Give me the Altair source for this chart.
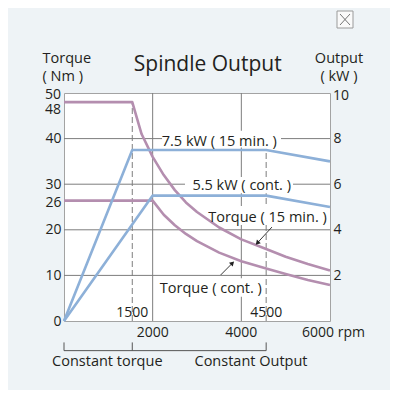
import altair as alt
import pandas as pd

# ---- data ----
rpm_t15 = [0, 1540, 1750, 2000, 2250, 2500, 2750, 3000, 3500, 4000, 4560, 5000, 5500, 6000]
torque_15min = [48, 48, 41, 36, 32, 28.7, 26.0, 23.9, 20.5, 17.9, 15.8, 14.1, 12.5, 11.1]
rpm_tc = [0, 2000, 2250, 2500, 2750, 3000, 3500, 4000, 4560, 5000, 5500, 6000]
torque_cont = [26.4, 26.4, 23.3, 21.0, 19.1, 17.5, 15.0, 13.1, 11.5, 10.3, 9.0, 7.9]
rpm_p15 = [0, 1540, 4560, 6000]
power_15min = [0, 7.5, 7.5, 7.0]
rpm_pc = [0, 2000, 4560, 6000]
power_cont = [0, 5.5, 5.5, 5.0]

torque_ticks = [0, 10, 20, 26, 30, 40]
output_ticks = [2, 4, 6, 8]
rpm_ticks = [2000, 4000]
rpm_tick_labels = ["2000", "4000"]
torque_grid = [10, 20, 30, 40]
rpm_grid = [2000, 4000]

ann_labels = ["7.5 kW ( 15 min. )", "5.5 kW ( cont. )", "Torque ( 15 min. )", "Torque ( cont. )"]
ann_rpm = [3503, 4008, 4590, 3312]
ann_torque = [38.4, 28.7, 21.8, 6.2]
box_r1 = [2211, 2729, 3203, 2120]
box_r2 = [4895, 5166, 5955, 4490]
box_t1 = [38.05, 28.0, 21.05, 5.3]
box_t2 = [41.7, 31.6, 25.2, 9.4]

arrow_r1 = [4690, 3535]
arrow_t1 = [20.6, 10.1]
arrow_r2 = [4360, 3800]
arrow_t2 = [17.1, 12.7]
arrow_angle = [223, 45]

FONT = "Open Sans"
TXT = "#231f20"
PINK = "#b48eaf"
BLUE = "#8db0d8"
GRID = "#7d7d7d"

xs = alt.Scale(domain=[0, 6000], nice=False, zero=False)
ts = alt.Scale(domain=[0, 50], nice=False, zero=False)
ps = alt.Scale(domain=[0, 10], nice=False, zero=False)

left_axis = alt.Axis(values=torque_ticks, ticks=False, domain=False, grid=False,
                     labelPadding=3, labelFontSize=14, labelFont=FONT, labelColor=TXT,
                     title=["Torque", "( Nm )"], titleAngle=0, titleAlign="left",
                     titleBaseline="alphabetic", titleX=-22, titleY=-30.5,
                     titleFont=FONT, titleFontSize=14.5, titleFontWeight="normal",
                     titleColor=TXT, titleLineHeight=18)
right_axis = alt.Axis(orient="right", values=output_ticks, ticks=False, domain=False, grid=False,
                      labelPadding=3, labelFontSize=14, labelFont=FONT, labelColor=TXT,
                      title=["Output", "( kW )"], titleAngle=0, titleAlign="center",
                      titleBaseline="alphabetic", titleX=8.5, titleY=-30.5,
                      titleFont=FONT, titleFontSize=14.5, titleFontWeight="normal",
                      titleColor=TXT, titleLineHeight=18)

# grid
hgrid = alt.Chart(pd.DataFrame({"t": torque_grid})).mark_rule(color=GRID, strokeWidth=1).encode(
    y=alt.Y("t:Q", scale=ts, axis=left_axis))
vgrid = alt.Chart(pd.DataFrame({"r": rpm_grid})).mark_rule(color=GRID, strokeWidth=1).encode(
    x=alt.X("r:Q", scale=xs, axis=None))
dash1 = alt.Chart(pd.DataFrame({"r": [rpm_t15[1]], "a": [0], "b": [torque_15min[1]]})).mark_rule(
    color=GRID, strokeWidth=1, strokeDash=[6, 3]).encode(
    x=alt.X("r:Q", scale=xs, axis=None), y=alt.Y("a:Q", scale=ts, axis=None), y2="b:Q")
dash2 = alt.Chart(pd.DataFrame({"r": [rpm_p15[2]], "a": [0], "b": [power_15min[2]]})).mark_rule(
    color=GRID, strokeWidth=1, strokeDash=[6, 3]).encode(
    x=alt.X("r:Q", scale=xs, axis=None), y=alt.Y("a:Q", scale=ps, axis=None), y2="b:Q")

# white label boxes
boxes = alt.Chart(pd.DataFrame({"r1": box_r1, "r2": box_r2, "t1": box_t1, "t2": box_t2})).mark_rect(
    color="white").encode(
    x=alt.X("r1:Q", scale=xs, axis=None), x2="r2:Q",
    y=alt.Y("t1:Q", scale=ts, axis=None), y2="t2:Q")

# curves
tq = pd.concat([
    pd.DataFrame({"rpm": rpm_t15, "v": torque_15min, "s": "Torque (15 min.)"}),
    pd.DataFrame({"rpm": rpm_tc, "v": torque_cont, "s": "Torque (cont.)"}),
])
torque_lines = alt.Chart(tq).mark_line(color=PINK, strokeWidth=2.6, strokeJoin="round").encode(
    x=alt.X("rpm:Q", scale=xs, axis=None),
    y=alt.Y("v:Q", scale=ts, axis=None),
    detail="s:N")
pw = pd.concat([
    pd.DataFrame({"rpm": rpm_p15, "v": power_15min, "s": "7.5 kW (15 min.)"}),
    pd.DataFrame({"rpm": rpm_pc, "v": power_cont, "s": "5.5 kW (cont.)"}),
])
power_lines = alt.Chart(pw).mark_line(color=BLUE, strokeWidth=2.6, strokeJoin="round").encode(
    x=alt.X("rpm:Q", scale=xs, axis=None),
    y=alt.Y("v:Q", scale=ps, axis=right_axis),
    detail="s:N")

# annotation texts
ann = alt.Chart(pd.DataFrame({"label": ann_labels, "rpm": ann_rpm, "t": ann_torque})).mark_text(
    font=FONT, fontSize=14.5, color=TXT, baseline="alphabetic", align="center").encode(
    x=alt.X("rpm:Q", scale=xs, axis=None), y=alt.Y("t:Q", scale=ts, axis=None), text="label:N")

# arrows
arr = pd.DataFrame({"r1": arrow_r1, "t1": arrow_t1, "r2": arrow_r2, "t2": arrow_t2, "a": arrow_angle})
arrow_lines = alt.Chart(arr).mark_rule(color="#222", strokeWidth=0.9).encode(
    x=alt.X("r1:Q", scale=xs, axis=None), x2="r2:Q",
    y=alt.Y("t1:Q", scale=ts, axis=None), y2="t2:Q")
arrow_heads = alt.Chart(arr).mark_point(shape="triangle-up", filled=True, color="#222", size=28, opacity=1).encode(
    x=alt.X("r2:Q", scale=xs, axis=None), y=alt.Y("t2:Q", scale=ts, axis=None),
    angle=alt.Angle("a:Q", scale=None))

# extra tick labels
lab48 = alt.Chart(pd.DataFrame({"t": [48], "r": [0], "l": ["48"]})).mark_text(
    font=FONT, fontSize=14, color=TXT, align="right", baseline="middle", dx=-3, dy=8).encode(
    x=alt.X("r:Q", scale=xs, axis=None), y=alt.Y("t:Q", scale=ts, axis=None), text="l:N")
lab50 = alt.Chart(pd.DataFrame({"t": [50], "r": [0], "l": ["50"]})).mark_text(
    font=FONT, fontSize=14, color=TXT, align="right", baseline="middle", dx=-3, dy=1.5).encode(
    x=alt.X("r:Q", scale=xs, axis=None), y=alt.Y("t:Q", scale=ts, axis=None), text="l:N")
lab10 = alt.Chart(pd.DataFrame({"p": [10], "r": [6000], "l": ["10"]})).mark_text(
    font=FONT, fontSize=14, color=TXT, align="left", baseline="middle", dx=3, dy=3).encode(
    x=alt.X("r:Q", scale=xs, axis=None), y=alt.Y("p:Q", scale=ps, axis=None), text="l:N")
inner_x = alt.Chart(pd.DataFrame({"r": [rpm_t15[1], rpm_p15[2]], "t": [0.8, 0.8], "l": ["1500", "4500"]})).mark_text(
    font=FONT, fontSize=14, color=TXT, align="center", baseline="alphabetic").encode(
    x=alt.X("r:Q", scale=xs, axis=None), y=alt.Y("t:Q", scale=ts, axis=None), text="l:N")
outer_x = alt.Chart(pd.DataFrame({"r": rpm_ticks, "t": [-3.6] * len(rpm_ticks), "l": rpm_tick_labels})).mark_text(
    font=FONT, fontSize=14, color=TXT, align="center", baseline="alphabetic").encode(
    x=alt.X("r:Q", scale=xs, axis=None), y=alt.Y("t:Q", scale=ts, axis=None), text="l:N")
lab6000 = alt.Chart(pd.DataFrame({"r": [6000], "t": [-3.6], "l": ["6000 rpm"]})).mark_text(
    font=FONT, fontSize=14, color=TXT, align="left", baseline="alphabetic", dx=-28).encode(
    x=alt.X("r:Q", scale=xs, axis=None), y=alt.Y("t:Q", scale=ts, axis=None), text="l:N")

# bracket below the axis
br_h = alt.Chart(pd.DataFrame({"r1": [0], "r2": [rpm_p15[2]], "t": [-6.5]})).mark_rule(color="#555", strokeWidth=1).encode(
    x=alt.X("r1:Q", scale=xs, axis=None), x2="r2:Q", y=alt.Y("t:Q", scale=ts, axis=None))
br_v = alt.Chart(pd.DataFrame({"r": [0, rpm_t15[1], rpm_p15[2]], "a": [-4.7] * 3, "b": [-6.5] * 3})).mark_rule(
    color="#555", strokeWidth=1).encode(
    x=alt.X("r:Q", scale=xs, axis=None), y=alt.Y("a:Q", scale=ts, axis=None), y2="b:Q")
br_txt = alt.Chart(pd.DataFrame({"r": [977, 4218], "t": [-9.9, -9.9], "l": ["Constant torque", "Constant Output"]})).mark_text(
    font=FONT, fontSize=14.5, color=TXT, align="center", baseline="alphabetic").encode(
    x=alt.X("r:Q", scale=xs, axis=None), y=alt.Y("t:Q", scale=ts, axis=None), text="l:N")

# title and close icon
title = alt.Chart(pd.DataFrame({"l": ["Spindle Output"]})).mark_text(
    font=FONT, fontSize=21, color=TXT, align="center", baseline="alphabetic").encode(
    x=alt.value(143.7), y=alt.value(-22), text="l:N")
icon_box = alt.Chart(pd.DataFrame({"k": [1]})).mark_rect(fill="#fafafa", stroke="#9a9a9a", strokeWidth=1).encode(
    x=alt.value(273), x2=alt.value(289), y=alt.value(-82), y2=alt.value(-65))
icon_x = alt.Chart(pd.DataFrame({"k": [1]})).mark_rule(color="#666", strokeWidth=0.9).encode(
    x=alt.value(276), x2=alt.value(286), y=alt.value(-79), y2=alt.value(-68))
icon_x2 = alt.Chart(pd.DataFrame({"k": [1]})).mark_rule(color="#666", strokeWidth=0.9).encode(
    x=alt.value(286), x2=alt.value(276), y=alt.value(-79), y2=alt.value(-68))

chart = alt.layer(
    hgrid, vgrid, dash1, dash2, boxes, torque_lines, power_lines, ann, arrow_lines, arrow_heads,
    lab48, lab50, lab10, inner_x, outer_x, lab6000, br_h, br_v, br_txt, title, icon_box, icon_x, icon_x2
).resolve_scale(y="independent").properties(
    width=266, height=228,
    autosize=alt.AutoSizeParams(type="none"),
    padding={"left": 56, "top": 85, "right": 60, "bottom": 69},
    background="#eef3f6",
).configure_view(fill="white", stroke="#a3a3a3", strokeWidth=1)

chart.save("out.html", embed_options={"renderer": "svg", "actions": False})
